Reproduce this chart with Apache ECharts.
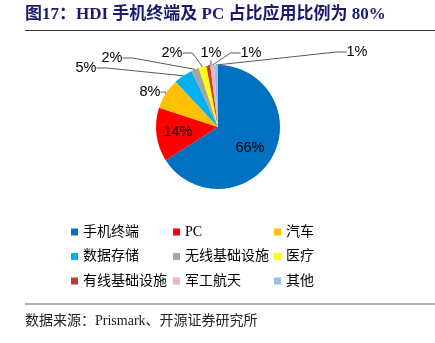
<!DOCTYPE html>
<html><head><meta charset="utf-8">
<script src="https://cdn.jsdelivr.net/npm/echarts@6/dist/echarts.min.js"></script>
<style>html,body{margin:0;padding:0;background:#fff}#c{width:435px;height:343px}</style>
</head><body><div id="c"></div>
<script>
var categories = ['手机终端','PC','汽车','数据存储','无线基础设施','医疗','有线基础设施','军工航天','其他'];
var values = [66,14,8,5,2,2,1,1,1];
var colors = ['#0070C0','#FF0000','#FFC000','#00B0F0','#A5A5A5','#FFFF00','#C23B2A','#E6B9B8','#9DBCE6'];
var titleText = '图17：HDI 手机终端及 PC 占比应用比例为 80%';
var sourceText = '数据来源：Prismark、开源证券研究所';
// label anchor positions (layout only)
var labelPos = [[250,148],[178,132],[150,92],[86,68],[112,58],[172,53],[211,53],[251,53],[357,52]];
var insideIdx = [0,1];

var data = categories.map(function(n,i){
  return {name:n, value:values[i], itemStyle:{color:colors[i]},
    label:{position: insideIdx.indexOf(i)>=0 ? 'inside':'outside'},
    labelLine:{show: insideIdx.indexOf(i)<0}};
});
var legendFont = {fontFamily:'"Liberation Serif","Noto Sans CJK SC"', fontSize:14, color:'#000', lineHeight:14};
function col(names,left){
  return {data:names, orient:'vertical', left:left, top:225, padding:0, itemWidth:7, itemHeight:7, itemGap:10.5,
    icon:'rect', textStyle:legendFont, selectedMode:false};
}
var chart = echarts.init(document.getElementById('c'));
chart.setOption({
  animation:false,
  legend:[
    col([categories[0],categories[3],categories[6]],71),
    col([categories[1],categories[4],categories[7]],173),
    col([categories[2],categories[5],categories[8]],274)
  ],
  graphic:[
    {type:'text', left:25, top:6, style:{text:titleText, font:'bold 17px "Liberation Serif","Noto Sans CJK SC"', fill:'#1B1A6E'}},
    {type:'line', shape:{x1:25,y1:30.5,x2:435,y2:30.5}, style:{stroke:'#333',lineWidth:1}},
    {type:'line', shape:{x1:25,y1:304,x2:435,y2:304}, style:{stroke:'#666',lineWidth:1.2}},
    {type:'text', left:25, top:314, style:{text:sourceText, font:'14px "Liberation Serif","Noto Sans CJK SC"', fill:'#222'}}
  ],
  series:[{
    type:'pie', center:[218,127], radius:62, startAngle:90, clockwise:true,
    data:data,
    label:{formatter:'{c}%', fontFamily:'"Liberation Sans","Noto Sans"', fontSize:14.5, color:'#000'},
    labelLine:{lineStyle:{color:'#595959',width:1}, length:10, length2:10},
    labelLayout:function(p){
      var pos = labelPos[p.dataIndex];
      return {x:pos[0], y:pos[1], align:'center', verticalAlign:'middle'};
    }
  }]
});
</script></body></html>
